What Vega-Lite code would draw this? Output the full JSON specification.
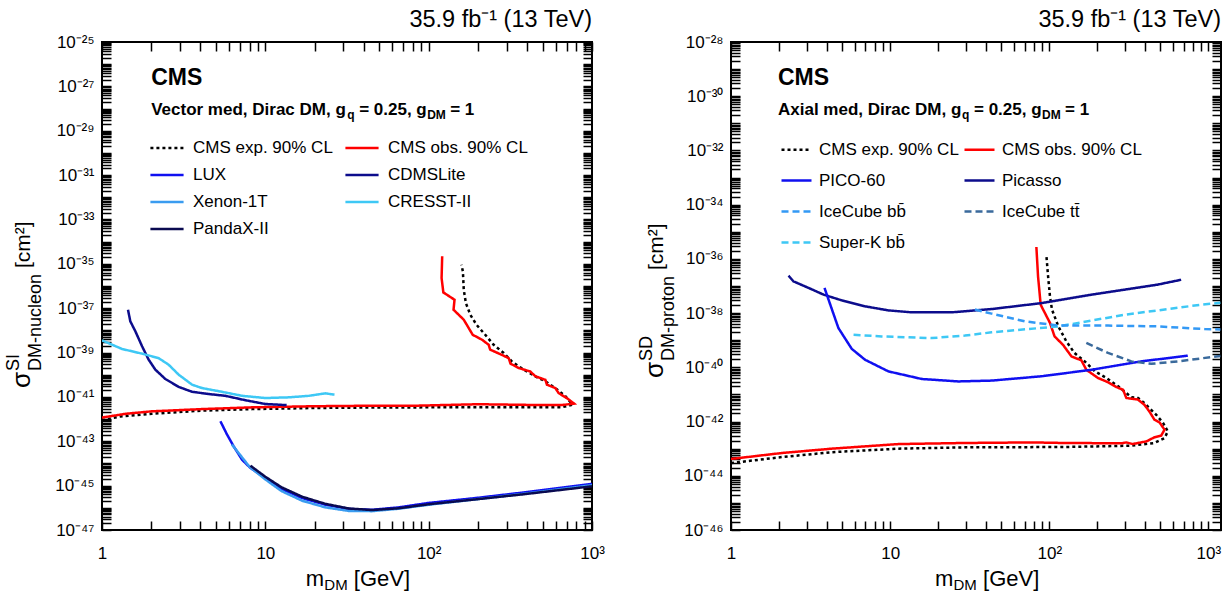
{
  "$schema": "https://vega.github.io/schema/vega-lite/v6.json",
  "autosize": {"type": "pad"},
  "padding": {"left": 3, "top": 6, "right": 0, "bottom": 0},
  "bounds": "flush",
  "spacing": 139,
  "background": "white",
  "config": {
    "font": "Liberation Sans",
    "view": {"stroke": "black", "strokeWidth": 2},
    "axis": {"grid": false, "domain": false, "labelFont": "Liberation Sans", "labelFontSize": 17, "labelColor": "black", "tickColor": "black", "tickWidth": 1.5, "labelFlush": false, "labelOverlap": false, "labelBound": false},
    "legend": {"labelColor": "black"}
  },
  "resolve": {"scale": {"x": "independent", "y": "independent", "color": "independent", "strokeDash": "independent"}},
  "datasets": {
    "si": [
      {"series": "CMS exp. 90% CL", "i": 0, "m": 1.0, "s": 8.91e-43},
      {"series": "CMS exp. 90% CL", "i": 1, "m": 1.3, "s": 1.32e-42},
      {"series": "CMS exp. 90% CL", "i": 2, "m": 2.02, "s": 1.74e-42},
      {"series": "CMS exp. 90% CL", "i": 3, "m": 4.09, "s": 2.40e-42},
      {"series": "CMS exp. 90% CL", "i": 4, "m": 8.3, "s": 2.82e-42},
      {"series": "CMS exp. 90% CL", "i": 5, "m": 20, "s": 3.16e-42},
      {"series": "CMS exp. 90% CL", "i": 6, "m": 40, "s": 3.31e-42},
      {"series": "CMS exp. 90% CL", "i": 7, "m": 110, "s": 3.39e-42},
      {"series": "CMS exp. 90% CL", "i": 8, "m": 281, "s": 3.39e-42},
      {"series": "CMS exp. 90% CL", "i": 9, "m": 650, "s": 3.39e-42},
      {"series": "CMS exp. 90% CL", "i": 10, "m": 760, "s": 4.47e-42},
      {"series": "CMS exp. 90% CL", "i": 11, "m": 687, "s": 1.07e-41},
      {"series": "CMS exp. 90% CL", "i": 12, "m": 596, "s": 2.51e-41},
      {"series": "CMS exp. 90% CL", "i": 13, "m": 518, "s": 5.01e-41},
      {"series": "CMS exp. 90% CL", "i": 14, "m": 450, "s": 8.51e-41},
      {"series": "CMS exp. 90% CL", "i": 15, "m": 381, "s": 1.70e-40},
      {"series": "CMS exp. 90% CL", "i": 16, "m": 323, "s": 3.98e-40},
      {"series": "CMS exp. 90% CL", "i": 17, "m": 288, "s": 9.55e-40},
      {"series": "CMS exp. 90% CL", "i": 18, "m": 250, "s": 2.24e-39},
      {"series": "CMS exp. 90% CL", "i": 19, "m": 222, "s": 6.31e-39},
      {"series": "CMS exp. 90% CL", "i": 20, "m": 196, "s": 1.82e-38},
      {"series": "CMS exp. 90% CL", "i": 21, "m": 180, "s": 5.01e-38},
      {"series": "CMS exp. 90% CL", "i": 22, "m": 169, "s": 1.70e-37},
      {"series": "CMS exp. 90% CL", "i": 23, "m": 164, "s": 6.76e-37},
      {"series": "CMS exp. 90% CL", "i": 24, "m": 162, "s": 4.57e-36},
      {"series": "CMS exp. 90% CL", "i": 25, "m": 158.6, "s": 9.12e-36},
      {"series": "CMS obs. 90% CL", "i": 0, "m": 1.0, "s": 1.17e-42},
      {"series": "CMS obs. 90% CL", "i": 1, "m": 1.4, "s": 1.74e-42},
      {"series": "CMS obs. 90% CL", "i": 2, "m": 2.02, "s": 2.24e-42},
      {"series": "CMS obs. 90% CL", "i": 3, "m": 4.09, "s": 2.82e-42},
      {"series": "CMS obs. 90% CL", "i": 4, "m": 8.3, "s": 3.39e-42},
      {"series": "CMS obs. 90% CL", "i": 5, "m": 20, "s": 3.80e-42},
      {"series": "CMS obs. 90% CL", "i": 6, "m": 40, "s": 3.98e-42},
      {"series": "CMS obs. 90% CL", "i": 7, "m": 80, "s": 3.98e-42},
      {"series": "CMS obs. 90% CL", "i": 8, "m": 200, "s": 4.68e-42},
      {"series": "CMS obs. 90% CL", "i": 9, "m": 400, "s": 4.37e-42},
      {"series": "CMS obs. 90% CL", "i": 10, "m": 650, "s": 4.27e-42},
      {"series": "CMS obs. 90% CL", "i": 11, "m": 776, "s": 5.01e-42},
      {"series": "CMS obs. 90% CL", "i": 12, "m": 700, "s": 8.91e-42},
      {"series": "CMS obs. 90% CL", "i": 13, "m": 625, "s": 1.48e-41},
      {"series": "CMS obs. 90% CL", "i": 14, "m": 596, "s": 2.51e-41},
      {"series": "CMS obs. 90% CL", "i": 15, "m": 530, "s": 3.55e-41},
      {"series": "CMS obs. 90% CL", "i": 16, "m": 518, "s": 5.89e-41},
      {"series": "CMS obs. 90% CL", "i": 17, "m": 450, "s": 8.51e-41},
      {"series": "CMS obs. 90% CL", "i": 18, "m": 418, "s": 1.41e-40},
      {"series": "CMS obs. 90% CL", "i": 19, "m": 356, "s": 2.0e-40},
      {"series": "CMS obs. 90% CL", "i": 20, "m": 317, "s": 3.16e-40},
      {"series": "CMS obs. 90% CL", "i": 21, "m": 309, "s": 5.62e-40},
      {"series": "CMS obs. 90% CL", "i": 22, "m": 274, "s": 8.51e-40},
      {"series": "CMS obs. 90% CL", "i": 23, "m": 238, "s": 1.35e-39},
      {"series": "CMS obs. 90% CL", "i": 24, "m": 233, "s": 2.24e-39},
      {"series": "CMS obs. 90% CL", "i": 25, "m": 212, "s": 3.80e-39},
      {"series": "CMS obs. 90% CL", "i": 26, "m": 186, "s": 6.31e-39},
      {"series": "CMS obs. 90% CL", "i": 27, "m": 176, "s": 1.26e-38},
      {"series": "CMS obs. 90% CL", "i": 28, "m": 164, "s": 3.02e-38},
      {"series": "CMS obs. 90% CL", "i": 29, "m": 142, "s": 8.51e-38},
      {"series": "CMS obs. 90% CL", "i": 30, "m": 144, "s": 2.40e-37},
      {"series": "CMS obs. 90% CL", "i": 31, "m": 123, "s": 5.13e-37},
      {"series": "CMS obs. 90% CL", "i": 32, "m": 120, "s": 2.29e-36},
      {"series": "CMS obs. 90% CL", "i": 33, "m": 121, "s": 2.19e-35},
      {"series": "LUX", "i": 0, "m": 5.31, "s": 7.94e-43},
      {"series": "LUX", "i": 1, "m": 5.83, "s": 2.0e-43},
      {"series": "LUX", "i": 2, "m": 6.4, "s": 5.89e-44},
      {"series": "LUX", "i": 3, "m": 7.2, "s": 1.48e-44},
      {"series": "LUX", "i": 4, "m": 8.1, "s": 6.31e-45},
      {"series": "LUX", "i": 5, "m": 10, "s": 2.19e-45},
      {"series": "LUX", "i": 6, "m": 12.6, "s": 7.08e-46},
      {"series": "LUX", "i": 7, "m": 16.8, "s": 2.75e-46},
      {"series": "LUX", "i": 8, "m": 23.3, "s": 1.38e-46},
      {"series": "LUX", "i": 9, "m": 32.4, "s": 8.91e-47},
      {"series": "LUX", "i": 10, "m": 45, "s": 8.13e-47},
      {"series": "LUX", "i": 11, "m": 65.6, "s": 1.05e-46},
      {"series": "LUX", "i": 12, "m": 100, "s": 1.66e-46},
      {"series": "LUX", "i": 13, "m": 193, "s": 2.75e-46},
      {"series": "LUX", "i": 14, "m": 390, "s": 5.01e-46},
      {"series": "LUX", "i": 15, "m": 1000, "s": 1.20e-45},
      {"series": "Xenon-1T", "i": 0, "m": 6.25, "s": 7.08e-44},
      {"series": "Xenon-1T", "i": 1, "m": 8.0, "s": 7.08e-45},
      {"series": "Xenon-1T", "i": 2, "m": 10, "s": 1.91e-45},
      {"series": "Xenon-1T", "i": 3, "m": 12.6, "s": 5.62e-46},
      {"series": "Xenon-1T", "i": 4, "m": 16.8, "s": 2.09e-46},
      {"series": "Xenon-1T", "i": 5, "m": 23.3, "s": 1.05e-46},
      {"series": "Xenon-1T", "i": 6, "m": 32.4, "s": 7.24e-47},
      {"series": "Xenon-1T", "i": 7, "m": 45, "s": 7.08e-47},
      {"series": "Xenon-1T", "i": 8, "m": 65.6, "s": 9.12e-47},
      {"series": "Xenon-1T", "i": 9, "m": 100, "s": 1.38e-46},
      {"series": "Xenon-1T", "i": 10, "m": 193, "s": 2.40e-46},
      {"series": "Xenon-1T", "i": 11, "m": 390, "s": 4.37e-46},
      {"series": "Xenon-1T", "i": 12, "m": 1000, "s": 1.05e-45},
      {"series": "PandaX-II", "i": 0, "m": 8.1, "s": 7.94e-45},
      {"series": "PandaX-II", "i": 1, "m": 10, "s": 2.51e-45},
      {"series": "PandaX-II", "i": 2, "m": 12.6, "s": 8.32e-46},
      {"series": "PandaX-II", "i": 3, "m": 16.8, "s": 3.16e-46},
      {"series": "PandaX-II", "i": 4, "m": 23.3, "s": 1.51e-46},
      {"series": "PandaX-II", "i": 5, "m": 32.4, "s": 9.33e-47},
      {"series": "PandaX-II", "i": 6, "m": 45, "s": 7.94e-47},
      {"series": "PandaX-II", "i": 7, "m": 65.6, "s": 9.55e-47},
      {"series": "PandaX-II", "i": 8, "m": 100, "s": 1.45e-46},
      {"series": "PandaX-II", "i": 9, "m": 193, "s": 2.40e-46},
      {"series": "PandaX-II", "i": 10, "m": 390, "s": 4.17e-46},
      {"series": "PandaX-II", "i": 11, "m": 1000, "s": 9.33e-46},
      {"series": "CDMSLite", "i": 0, "m": 1.443, "s": 8.51e-38},
      {"series": "CDMSLite", "i": 1, "m": 1.49, "s": 2.57e-38},
      {"series": "CDMSLite", "i": 2, "m": 1.6, "s": 9.12e-39},
      {"series": "CDMSLite", "i": 3, "m": 1.76, "s": 1.91e-39},
      {"series": "CDMSLite", "i": 4, "m": 1.93, "s": 4.79e-40},
      {"series": "CDMSLite", "i": 5, "m": 2.12, "s": 1.70e-40},
      {"series": "CDMSLite", "i": 6, "m": 2.44, "s": 6.46e-41},
      {"series": "CDMSLite", "i": 7, "m": 2.95, "s": 2.82e-41},
      {"series": "CDMSLite", "i": 8, "m": 3.56, "s": 1.70e-41},
      {"series": "CDMSLite", "i": 9, "m": 4.5, "s": 1.35e-41},
      {"series": "CDMSLite", "i": 10, "m": 5.69, "s": 1.12e-41},
      {"series": "CDMSLite", "i": 11, "m": 7.55, "s": 7.08e-42},
      {"series": "CDMSLite", "i": 12, "m": 10, "s": 4.79e-42},
      {"series": "CDMSLite", "i": 13, "m": 13.5, "s": 4.27e-42},
      {"series": "CRESST-II", "i": 0, "m": 1.0, "s": 3.55e-39},
      {"series": "CRESST-II", "i": 1, "m": 1.326, "s": 1.45e-39},
      {"series": "CRESST-II", "i": 2, "m": 1.758, "s": 8.91e-40},
      {"series": "CRESST-II", "i": 3, "m": 2.22, "s": 5.62e-40},
      {"series": "CRESST-II", "i": 4, "m": 2.56, "s": 2.82e-40},
      {"series": "CRESST-II", "i": 5, "m": 2.95, "s": 1.0e-40},
      {"series": "CRESST-II", "i": 6, "m": 3.56, "s": 3.55e-41},
      {"series": "CRESST-II", "i": 7, "m": 4.09, "s": 2.51e-41},
      {"series": "CRESST-II", "i": 8, "m": 5.42, "s": 1.70e-41},
      {"series": "CRESST-II", "i": 9, "m": 7.2, "s": 1.12e-41},
      {"series": "CRESST-II", "i": 10, "m": 10, "s": 8.91e-42},
      {"series": "CRESST-II", "i": 11, "m": 13.9, "s": 9.55e-42},
      {"series": "CRESST-II", "i": 12, "m": 18.5, "s": 1.12e-41},
      {"series": "CRESST-II", "i": 13, "m": 23.3, "s": 1.45e-41},
      {"series": "CRESST-II", "i": 14, "m": 26.5, "s": 1.26e-41}
    ],
    "sd": [
      {"series": "CMS exp. 90% CL", "i": 0, "m": 1.0, "s": 2.95e-44},
      {"series": "CMS exp. 90% CL", "i": 1, "m": 2.09, "s": 4.90e-44},
      {"series": "CMS exp. 90% CL", "i": 2, "m": 4.3, "s": 7.41e-44},
      {"series": "CMS exp. 90% CL", "i": 3, "m": 11.3, "s": 1.0e-43},
      {"series": "CMS exp. 90% CL", "i": 4, "m": 29.5, "s": 1.12e-43},
      {"series": "CMS exp. 90% CL", "i": 5, "m": 125, "s": 1.15e-43},
      {"series": "CMS exp. 90% CL", "i": 6, "m": 328, "s": 1.29e-43},
      {"series": "CMS exp. 90% CL", "i": 7, "m": 458, "s": 1.62e-43},
      {"series": "CMS exp. 90% CL", "i": 8, "m": 530, "s": 2.45e-43},
      {"series": "CMS exp. 90% CL", "i": 9, "m": 556, "s": 4.37e-43},
      {"series": "CMS exp. 90% CL", "i": 10, "m": 519, "s": 8.91e-43},
      {"series": "CMS exp. 90% CL", "i": 11, "m": 470, "s": 1.78e-42},
      {"series": "CMS exp. 90% CL", "i": 12, "m": 425, "s": 3.16e-42},
      {"series": "CMS exp. 90% CL", "i": 13, "m": 396, "s": 4.79e-42},
      {"series": "CMS exp. 90% CL", "i": 14, "m": 361, "s": 7.41e-42},
      {"series": "CMS exp. 90% CL", "i": 15, "m": 328, "s": 7.94e-42},
      {"series": "CMS exp. 90% CL", "i": 16, "m": 271, "s": 2.0e-41},
      {"series": "CMS exp. 90% CL", "i": 17, "m": 228, "s": 4.07e-41},
      {"series": "CMS exp. 90% CL", "i": 18, "m": 194, "s": 7.08e-41},
      {"series": "CMS exp. 90% CL", "i": 19, "m": 167, "s": 1.66e-40},
      {"series": "CMS exp. 90% CL", "i": 20, "m": 144, "s": 3.39e-40},
      {"series": "CMS exp. 90% CL", "i": 21, "m": 128, "s": 9.12e-40},
      {"series": "CMS exp. 90% CL", "i": 22, "m": 114, "s": 3.24e-39},
      {"series": "CMS exp. 90% CL", "i": 23, "m": 104, "s": 1.35e-38},
      {"series": "CMS exp. 90% CL", "i": 24, "m": 101, "s": 4.17e-38},
      {"series": "CMS exp. 90% CL", "i": 25, "m": 98.3, "s": 2.29e-37},
      {"series": "CMS exp. 90% CL", "i": 26, "m": 96, "s": 1.26e-36},
      {"series": "CMS obs. 90% CL", "i": 0, "m": 1.0, "s": 4.17e-44},
      {"series": "CMS obs. 90% CL", "i": 1, "m": 2.09, "s": 6.92e-44},
      {"series": "CMS obs. 90% CL", "i": 2, "m": 4.3, "s": 1.0e-43},
      {"series": "CMS obs. 90% CL", "i": 3, "m": 11.3, "s": 1.48e-43},
      {"series": "CMS obs. 90% CL", "i": 4, "m": 29.5, "s": 1.62e-43},
      {"series": "CMS obs. 90% CL", "i": 5, "m": 77.5, "s": 1.70e-43},
      {"series": "CMS obs. 90% CL", "i": 6, "m": 125, "s": 1.62e-43},
      {"series": "CMS obs. 90% CL", "i": 7, "m": 285, "s": 1.58e-43},
      {"series": "CMS obs. 90% CL", "i": 8, "m": 305, "s": 1.70e-43},
      {"series": "CMS obs. 90% CL", "i": 9, "m": 334, "s": 1.48e-43},
      {"series": "CMS obs. 90% CL", "i": 10, "m": 408, "s": 1.86e-43},
      {"series": "CMS obs. 90% CL", "i": 11, "m": 458, "s": 2.63e-43},
      {"series": "CMS obs. 90% CL", "i": 12, "m": 505, "s": 3.02e-43},
      {"series": "CMS obs. 90% CL", "i": 13, "m": 530, "s": 5.01e-43},
      {"series": "CMS obs. 90% CL", "i": 14, "m": 493, "s": 9.33e-43},
      {"series": "CMS obs. 90% CL", "i": 15, "m": 458, "s": 1.17e-42},
      {"series": "CMS obs. 90% CL", "i": 16, "m": 425, "s": 2.40e-42},
      {"series": "CMS obs. 90% CL", "i": 17, "m": 396, "s": 4.17e-42},
      {"series": "CMS obs. 90% CL", "i": 18, "m": 361, "s": 6.46e-42},
      {"series": "CMS obs. 90% CL", "i": 19, "m": 305, "s": 7.41e-42},
      {"series": "CMS obs. 90% CL", "i": 20, "m": 291, "s": 1.48e-41},
      {"series": "CMS obs. 90% CL", "i": 21, "m": 265, "s": 1.86e-41},
      {"series": "CMS obs. 90% CL", "i": 22, "m": 234, "s": 2.82e-41},
      {"series": "CMS obs. 90% CL", "i": 23, "m": 202, "s": 4.07e-41},
      {"series": "CMS obs. 90% CL", "i": 24, "m": 171, "s": 8.13e-41},
      {"series": "CMS obs. 90% CL", "i": 25, "m": 159, "s": 1.82e-40},
      {"series": "CMS obs. 90% CL", "i": 26, "m": 138, "s": 2.51e-40},
      {"series": "CMS obs. 90% CL", "i": 27, "m": 122, "s": 6.76e-40},
      {"series": "CMS obs. 90% CL", "i": 28, "m": 108, "s": 1.38e-39},
      {"series": "CMS obs. 90% CL", "i": 29, "m": 101, "s": 4.37e-39},
      {"series": "CMS obs. 90% CL", "i": 30, "m": 91.5, "s": 1.35e-38},
      {"series": "CMS obs. 90% CL", "i": 31, "m": 88.3, "s": 2.04e-38},
      {"series": "CMS obs. 90% CL", "i": 32, "m": 85, "s": 2.29e-37},
      {"series": "CMS obs. 90% CL", "i": 33, "m": 83, "s": 2.75e-36},
      {"series": "Picasso", "i": 0, "m": 2.3, "s": 2.40e-37},
      {"series": "Picasso", "i": 1, "m": 2.47, "s": 1.48e-37},
      {"series": "Picasso", "i": 2, "m": 3.07, "s": 8.51e-38},
      {"series": "Picasso", "i": 3, "m": 3.82, "s": 4.79e-38},
      {"series": "Picasso", "i": 4, "m": 4.97, "s": 2.95e-38},
      {"series": "Picasso", "i": 5, "m": 6.95, "s": 1.78e-38},
      {"series": "Picasso", "i": 6, "m": 9.75, "s": 1.26e-38},
      {"series": "Picasso", "i": 7, "m": 13.6, "s": 1.07e-38},
      {"series": "Picasso", "i": 8, "m": 24.4, "s": 1.07e-38},
      {"series": "Picasso", "i": 9, "m": 43.4, "s": 1.41e-38},
      {"series": "Picasso", "i": 10, "m": 89.5, "s": 2.34e-38},
      {"series": "Picasso", "i": 11, "m": 184, "s": 4.79e-38},
      {"series": "Picasso", "i": 12, "m": 478, "s": 1.12e-37},
      {"series": "Picasso", "i": 13, "m": 674, "s": 1.70e-37},
      {"series": "PICO-60", "i": 0, "m": 3.87, "s": 8.51e-38},
      {"series": "PICO-60", "i": 1, "m": 4.1, "s": 3.16e-38},
      {"series": "PICO-60", "i": 2, "m": 4.73, "s": 2.82e-39},
      {"series": "PICO-60", "i": 3, "m": 5.74, "s": 4.79e-40},
      {"series": "PICO-60", "i": 4, "m": 6.95, "s": 1.91e-40},
      {"series": "PICO-60", "i": 5, "m": 9.75, "s": 7.08e-41},
      {"series": "PICO-60", "i": 6, "m": 15.8, "s": 3.72e-41},
      {"series": "PICO-60", "i": 7, "m": 26.8, "s": 3.02e-41},
      {"series": "PICO-60", "i": 8, "m": 43.4, "s": 3.24e-41},
      {"series": "PICO-60", "i": 9, "m": 89.5, "s": 4.68e-41},
      {"series": "PICO-60", "i": 10, "m": 184, "s": 8.13e-41},
      {"series": "PICO-60", "i": 11, "m": 378, "s": 1.66e-40},
      {"series": "PICO-60", "i": 12, "m": 742, "s": 2.69e-40},
      {"series": "Super-K bb̄", "i": 0, "m": 5.89, "s": 1.58e-39},
      {"series": "Super-K bb̄", "i": 1, "m": 8.86, "s": 1.38e-39},
      {"series": "Super-K bb̄", "i": 2, "m": 18.2, "s": 1.20e-39},
      {"series": "Super-K bb̄", "i": 3, "m": 29.5, "s": 1.48e-39},
      {"series": "Super-K bb̄", "i": 4, "m": 43.4, "s": 1.95e-39},
      {"series": "Super-K bb̄", "i": 5, "m": 114, "s": 3.24e-39},
      {"series": "Super-K bb̄", "i": 6, "m": 298, "s": 8.71e-39},
      {"series": "Super-K bb̄", "i": 7, "m": 898, "s": 2.04e-38},
      {"series": "Super-K bb̄", "i": 8, "m": 1190, "s": 2.40e-38},
      {"series": "IceCube bb̄", "i": 0, "m": 34.1, "s": 1.35e-38},
      {"series": "IceCube bb̄", "i": 1, "m": 43.4, "s": 9.55e-39},
      {"series": "IceCube bb̄", "i": 2, "m": 70, "s": 5.01e-39},
      {"series": "IceCube bb̄", "i": 3, "m": 114, "s": 3.47e-39},
      {"series": "IceCube bb̄", "i": 4, "m": 234, "s": 3.47e-39},
      {"series": "IceCube bb̄", "i": 5, "m": 478, "s": 3.24e-39},
      {"series": "IceCube bb̄", "i": 6, "m": 945, "s": 2.57e-39},
      {"series": "IceCube bb̄", "i": 7, "m": 1190, "s": 2.51e-39},
      {"series": "IceCube tt̄", "i": 0, "m": 171, "s": 7.94e-40},
      {"series": "IceCube tt̄", "i": 1, "m": 234, "s": 3.39e-40},
      {"series": "IceCube tt̄", "i": 2, "m": 328, "s": 1.66e-40},
      {"series": "IceCube tt̄", "i": 3, "m": 438, "s": 1.35e-40},
      {"series": "IceCube tt̄", "i": 4, "m": 642, "s": 1.66e-40},
      {"series": "IceCube tt̄", "i": 5, "m": 1190, "s": 2.63e-40}
    ]
  },
  "hconcat": [
    {
      "width": 490,
      "height": 488,
      "title": {"text": "35.9 fb⁻¹ (13 TeV)", "anchor": "end", "frame": "group", "fontSize": 23.5, "fontWeight": "normal", "font": "Liberation Sans", "offset": 2, "color": "black"},
      "resolve": {"axis": {"x": "independent", "y": "independent"}},
      "layer": [
        {
          "data": {"name": "si"},
          "mark": {"type": "line", "strokeWidth": 2.5, "clip": true},
          "encoding": {
            "x": {"field": "m", "type": "quantitative", "scale": {"type": "log", "domain": [1, 1000], "nice": false},
              "axis": {"orient": "bottom", "title": null, "tickSize": -9, "labelPadding": 24,
                "values": [1,2,3,4,5,6,7,8,9,10,20,30,40,50,60,70,80,90,100,200,300,400,500,600,700,800,900,1000],
                "labelExpr": "datum.value == 1 ? '1' : datum.value == 10 ? '10' : datum.value == 100 ? '10²' : datum.value == 1000 ? '10³' : ''"}},
            "y": {"field": "s", "type": "quantitative", "scale": {"type": "log", "domain": [1e-47, 1e-25], "nice": false},
              "axis": {"orient": "left", "title": null, "tickSize": -9, "labelPadding": 17,
                "values": [1e-47,2e-47,3e-47,4e-47,5e-47,6e-47,7e-47,8e-47,9e-47,1e-46,2e-46,3e-46,4e-46,5e-46,6e-46,7e-46,8e-46,9e-46,1e-45,2e-45,3e-45,4e-45,5e-45,6e-45,7e-45,8e-45,9e-45,1e-44,2e-44,3e-44,4e-44,5e-44,6e-44,7e-44,8e-44,9e-44,1e-43,2e-43,3e-43,4e-43,5e-43,6e-43,7e-43,8e-43,9e-43,1e-42,2e-42,3e-42,4e-42,5e-42,6e-42,7e-42,8e-42,9e-42,1e-41,2e-41,3e-41,4e-41,5e-41,6e-41,7e-41,8e-41,9e-41,1e-40,2e-40,3e-40,4e-40,5e-40,6e-40,7e-40,8e-40,9e-40,1e-39,2e-39,3e-39,4e-39,5e-39,6e-39,7e-39,8e-39,9e-39,1e-38,2e-38,3e-38,4e-38,5e-38,6e-38,7e-38,8e-38,9e-38,1e-37,2e-37,3e-37,4e-37,5e-37,6e-37,7e-37,8e-37,9e-37,1e-36,2e-36,3e-36,4e-36,5e-36,6e-36,7e-36,8e-36,9e-36,1e-35,2e-35,3e-35,4e-35,5e-35,6e-35,7e-35,8e-35,9e-35,1e-34,2e-34,3e-34,4e-34,5e-34,6e-34,7e-34,8e-34,9e-34,1e-33,2e-33,3e-33,4e-33,5e-33,6e-33,7e-33,8e-33,9e-33,1e-32,2e-32,3e-32,4e-32,5e-32,6e-32,7e-32,8e-32,9e-32,1e-31,2e-31,3e-31,4e-31,5e-31,6e-31,7e-31,8e-31,9e-31,1e-30,2e-30,3e-30,4e-30,5e-30,6e-30,7e-30,8e-30,9e-30,1e-29,2e-29,3e-29,4e-29,5e-29,6e-29,7e-29,8e-29,9e-29,1e-28,2e-28,3e-28,4e-28,5e-28,6e-28,7e-28,8e-28,9e-28,1e-27,2e-27,3e-27,4e-27,5e-27,6e-27,7e-27,8e-27,9e-27,1e-26,2e-26,3e-26,4e-26,5e-26,6e-26,7e-26,8e-26,9e-26,1e-25],
                "labelExpr": "abs(log(datum.value)/LN10 - round(log(datum.value)/LN10)) < 1e-6 && abs(round(log(datum.value)/LN10)) % 2 == 1 ? '10⁻' + substring('⁰¹²³⁴⁵⁶⁷⁸⁹', floor(abs(round(log(datum.value)/LN10))/10), floor(abs(round(log(datum.value)/LN10))/10) + 1) + substring('⁰¹²³⁴⁵⁶⁷⁸⁹', abs(round(log(datum.value)/LN10)) % 10, abs(round(log(datum.value)/LN10)) % 10 + 1) : ''"}},
            "color": {"field": "series", "type": "nominal",
              "scale": {"domain": ["CMS exp. 90% CL", "LUX", "Xenon-1T", "PandaX-II", "CMS obs. 90% CL", "CDMSLite", "CRESST-II"], "range": ["#000000", "#1010f0", "#3a9cf0", "#0a0a50", "#ff0000", "#0c0c8c", "#3ec8f5"]},
              "legend": {"title": null, "orient": "none", "legendX": 47, "legendY": 88, "columns": 2, "symbolType": "stroke", "symbolSize": 1100, "symbolStrokeWidth": 2.5, "labelFontSize": 17, "labelFont": "Liberation Sans", "labelOffset": 8, "rowPadding": 1, "columnPadding": 7, "padding": 0, "labelLimit": 400}},
            "strokeDash": {"field": "series", "type": "nominal",
              "scale": {"domain": ["CMS exp. 90% CL", "LUX", "Xenon-1T", "PandaX-II", "CMS obs. 90% CL", "CDMSLite", "CRESST-II"], "range": [[3,3],[1,0],[1,0],[1,0],[1,0],[1,0],[1,0]]},
              "legend": {"title": null, "orient": "none", "legendX": 47, "legendY": 88, "columns": 2, "symbolType": "stroke", "symbolSize": 1100, "symbolStrokeWidth": 2.5, "labelFontSize": 17, "labelFont": "Liberation Sans", "labelOffset": 8, "rowPadding": 1, "columnPadding": 7, "padding": 0, "labelLimit": 400}},
            "order": {"field": "i", "type": "quantitative"}
          }
        },
        {
          "data": {"name": "si"},
          "mark": {"type": "line", "opacity": 0},
          "encoding": {
            "x": {"field": "m", "type": "quantitative", "scale": {"type": "log", "domain": [1, 1000], "nice": false},
              "axis": {"orient": "top", "title": null, "labels": false, "tickSize": -9,
                "values": [1,2,3,4,5,6,7,8,9,10,20,30,40,50,60,70,80,90,100,200,300,400,500,600,700,800,900,1000]}},
            "y": {"field": "s", "type": "quantitative", "scale": {"type": "log", "domain": [1e-47, 1e-25], "nice": false},
              "axis": {"orient": "right", "title": null, "labels": false, "tickSize": -9,
                "values": [1e-47,2e-47,3e-47,4e-47,5e-47,6e-47,7e-47,8e-47,9e-47,1e-46,2e-46,3e-46,4e-46,5e-46,6e-46,7e-46,8e-46,9e-46,1e-45,2e-45,3e-45,4e-45,5e-45,6e-45,7e-45,8e-45,9e-45,1e-44,2e-44,3e-44,4e-44,5e-44,6e-44,7e-44,8e-44,9e-44,1e-43,2e-43,3e-43,4e-43,5e-43,6e-43,7e-43,8e-43,9e-43,1e-42,2e-42,3e-42,4e-42,5e-42,6e-42,7e-42,8e-42,9e-42,1e-41,2e-41,3e-41,4e-41,5e-41,6e-41,7e-41,8e-41,9e-41,1e-40,2e-40,3e-40,4e-40,5e-40,6e-40,7e-40,8e-40,9e-40,1e-39,2e-39,3e-39,4e-39,5e-39,6e-39,7e-39,8e-39,9e-39,1e-38,2e-38,3e-38,4e-38,5e-38,6e-38,7e-38,8e-38,9e-38,1e-37,2e-37,3e-37,4e-37,5e-37,6e-37,7e-37,8e-37,9e-37,1e-36,2e-36,3e-36,4e-36,5e-36,6e-36,7e-36,8e-36,9e-36,1e-35,2e-35,3e-35,4e-35,5e-35,6e-35,7e-35,8e-35,9e-35,1e-34,2e-34,3e-34,4e-34,5e-34,6e-34,7e-34,8e-34,9e-34,1e-33,2e-33,3e-33,4e-33,5e-33,6e-33,7e-33,8e-33,9e-33,1e-32,2e-32,3e-32,4e-32,5e-32,6e-32,7e-32,8e-32,9e-32,1e-31,2e-31,3e-31,4e-31,5e-31,6e-31,7e-31,8e-31,9e-31,1e-30,2e-30,3e-30,4e-30,5e-30,6e-30,7e-30,8e-30,9e-30,1e-29,2e-29,3e-29,4e-29,5e-29,6e-29,7e-29,8e-29,9e-29,1e-28,2e-28,3e-28,4e-28,5e-28,6e-28,7e-28,8e-28,9e-28,1e-27,2e-27,3e-27,4e-27,5e-27,6e-27,7e-27,8e-27,9e-27,1e-26,2e-26,3e-26,4e-26,5e-26,6e-26,7e-26,8e-26,9e-26,1e-25]}},
            "detail": {"field": "series"}
          }
        },
        {"data": {"values": [{"t": "CMS"}]}, "mark": {"type": "text", "align": "left", "baseline": "alphabetic", "fontSize": 23, "fontWeight": "bold"},
          "encoding": {"x": {"datum": 2.0, "type": "quantitative", "scale": {"type": "log", "domain": [1, 1000], "nice": false}, "axis": null}, "y": {"datum": 1.15e-27, "type": "quantitative", "scale": {"type": "log", "domain": [1e-47, 1e-25], "nice": false}, "axis": null}, "text": {"field": "t"}}},
        {"data": {"values": [{"t": "Vector med, Dirac DM, g"}]}, "mark": {"type": "text", "align": "left", "baseline": "alphabetic", "fontSize": 17, "fontWeight": "bold"},
          "encoding": {"x": {"datum": 2.0, "type": "quantitative", "scale": {"type": "log", "domain": [1, 1000], "nice": false}, "axis": null}, "y": {"datum": 5.13e-29, "type": "quantitative", "scale": {"type": "log", "domain": [1e-47, 1e-25], "nice": false}, "axis": null}, "text": {"field": "t"}}},
        {"data": {"values": [{"t": "q"}]}, "mark": {"type": "text", "align": "left", "baseline": "alphabetic", "fontSize": 12, "fontWeight": "bold", "dx": 196, "dy": 4},
          "encoding": {"x": {"datum": 2.0, "type": "quantitative", "scale": {"type": "log", "domain": [1, 1000], "nice": false}, "axis": null}, "y": {"datum": 5.13e-29, "type": "quantitative", "scale": {"type": "log", "domain": [1e-47, 1e-25], "nice": false}, "axis": null}, "text": {"field": "t"}}},
        {"data": {"values": [{"t": "= 0.25, g"}]}, "mark": {"type": "text", "align": "left", "baseline": "alphabetic", "fontSize": 17, "fontWeight": "bold", "dx": 208},
          "encoding": {"x": {"datum": 2.0, "type": "quantitative", "scale": {"type": "log", "domain": [1, 1000], "nice": false}, "axis": null}, "y": {"datum": 5.13e-29, "type": "quantitative", "scale": {"type": "log", "domain": [1e-47, 1e-25], "nice": false}, "axis": null}, "text": {"field": "t"}}},
        {"data": {"values": [{"t": "DM"}]}, "mark": {"type": "text", "align": "left", "baseline": "alphabetic", "fontSize": 12, "fontWeight": "bold", "dx": 276, "dy": 4},
          "encoding": {"x": {"datum": 2.0, "type": "quantitative", "scale": {"type": "log", "domain": [1, 1000], "nice": false}, "axis": null}, "y": {"datum": 5.13e-29, "type": "quantitative", "scale": {"type": "log", "domain": [1e-47, 1e-25], "nice": false}, "axis": null}, "text": {"field": "t"}}},
        {"data": {"values": [{"t": "= 1"}]}, "mark": {"type": "text", "align": "left", "baseline": "alphabetic", "fontSize": 17, "fontWeight": "bold", "dx": 299},
          "encoding": {"x": {"datum": 2.0, "type": "quantitative", "scale": {"type": "log", "domain": [1, 1000], "nice": false}, "axis": null}, "y": {"datum": 5.13e-29, "type": "quantitative", "scale": {"type": "log", "domain": [1e-47, 1e-25], "nice": false}, "axis": null}, "text": {"field": "t"}}},
        {"data": {"values": [{"t": "m"}]}, "mark": {"type": "text", "align": "left", "baseline": "alphabetic", "fontSize": 22},
          "encoding": {"x": {"datum": 17.7, "type": "quantitative", "scale": {"type": "log", "domain": [1, 1000], "nice": false}, "axis": null}, "y": {"datum": 2.97e-50, "type": "quantitative", "scale": {"type": "log", "domain": [1e-47, 1e-25], "nice": false}, "axis": null}, "text": {"field": "t"}}},
        {"data": {"values": [{"t": "DM"}]}, "mark": {"type": "text", "align": "left", "baseline": "alphabetic", "fontSize": 15, "dx": 18.5, "dy": 4},
          "encoding": {"x": {"datum": 17.7, "type": "quantitative", "scale": {"type": "log", "domain": [1, 1000], "nice": false}, "axis": null}, "y": {"datum": 2.97e-50, "type": "quantitative", "scale": {"type": "log", "domain": [1e-47, 1e-25], "nice": false}, "axis": null}, "text": {"field": "t"}}},
        {"data": {"values": [{"t": "[GeV]"}]}, "mark": {"type": "text", "align": "left", "baseline": "alphabetic", "fontSize": 22, "dx": 48},
          "encoding": {"x": {"datum": 17.7, "type": "quantitative", "scale": {"type": "log", "domain": [1, 1000], "nice": false}, "axis": null}, "y": {"datum": 2.97e-50, "type": "quantitative", "scale": {"type": "log", "domain": [1e-47, 1e-25], "nice": false}, "axis": null}, "text": {"field": "t"}}},
        {"data": {"values": [{"t": "σ"}]}, "mark": {"type": "text", "align": "left", "baseline": "alphabetic", "fontSize": 26, "angle": 270},
          "encoding": {"x": {"datum": 0.3623, "type": "quantitative", "scale": {"type": "log", "domain": [1, 1000], "nice": false}, "axis": null}, "y": {"datum": 2.51e-41, "type": "quantitative", "scale": {"type": "log", "domain": [1e-47, 1e-25], "nice": false}, "axis": null}, "text": {"field": "t"}}},
        {"data": {"values": [{"t": "SI"}]}, "mark": {"type": "text", "align": "left", "baseline": "alphabetic", "fontSize": 18, "angle": 270, "dx": 17, "dy": -11},
          "encoding": {"x": {"datum": 0.3623, "type": "quantitative", "scale": {"type": "log", "domain": [1, 1000], "nice": false}, "axis": null}, "y": {"datum": 2.51e-41, "type": "quantitative", "scale": {"type": "log", "domain": [1e-47, 1e-25], "nice": false}, "axis": null}, "text": {"field": "t"}}},
        {"data": {"values": [{"t": "DM-nucleon"}]}, "mark": {"type": "text", "align": "left", "baseline": "alphabetic", "fontSize": 18, "angle": 270, "dx": 17, "dy": 11},
          "encoding": {"x": {"datum": 0.3623, "type": "quantitative", "scale": {"type": "log", "domain": [1, 1000], "nice": false}, "axis": null}, "y": {"datum": 2.51e-41, "type": "quantitative", "scale": {"type": "log", "domain": [1e-47, 1e-25], "nice": false}, "axis": null}, "text": {"field": "t"}}},
        {"data": {"values": [{"t": "[cm²]"}]}, "mark": {"type": "text", "align": "left", "baseline": "alphabetic", "fontSize": 21, "angle": 270, "dx": 120},
          "encoding": {"x": {"datum": 0.3623, "type": "quantitative", "scale": {"type": "log", "domain": [1, 1000], "nice": false}, "axis": null}, "y": {"datum": 2.51e-41, "type": "quantitative", "scale": {"type": "log", "domain": [1e-47, 1e-25], "nice": false}, "axis": null}, "text": {"field": "t"}}}
      ]
    },
    {
      "width": 490,
      "height": 488,
      "title": {"text": "35.9 fb⁻¹ (13 TeV)", "anchor": "end", "frame": "group", "fontSize": 23.5, "fontWeight": "normal", "font": "Liberation Sans", "offset": 2, "color": "black"},
      "resolve": {"axis": {"x": "independent", "y": "independent"}},
      "layer": [
        {
          "data": {"name": "sd"},
          "mark": {"type": "line", "strokeWidth": 2.5, "clip": true},
          "encoding": {
            "x": {"field": "m", "type": "quantitative", "scale": {"type": "log", "domain": [1, 1200], "nice": false},
              "axis": {"orient": "bottom", "title": null, "tickSize": -9, "labelPadding": 24,
                "values": [1,2,3,4,5,6,7,8,9,10,20,30,40,50,60,70,80,90,100,200,300,400,500,600,700,800,900,1000],
                "labelExpr": "datum.value == 1 ? '1' : datum.value == 10 ? '10' : datum.value == 100 ? '10²' : datum.value == 1000 ? '10³' : ''"}},
            "y": {"field": "s", "type": "quantitative", "scale": {"type": "log", "domain": [1e-46, 1e-28], "nice": false},
              "axis": {"orient": "left", "title": null, "tickSize": -9, "labelPadding": 17,
                "values": [1e-46,2e-46,3e-46,4e-46,5e-46,6e-46,7e-46,8e-46,9e-46,1e-45,2e-45,3e-45,4e-45,5e-45,6e-45,7e-45,8e-45,9e-45,1e-44,2e-44,3e-44,4e-44,5e-44,6e-44,7e-44,8e-44,9e-44,1e-43,2e-43,3e-43,4e-43,5e-43,6e-43,7e-43,8e-43,9e-43,1e-42,2e-42,3e-42,4e-42,5e-42,6e-42,7e-42,8e-42,9e-42,1e-41,2e-41,3e-41,4e-41,5e-41,6e-41,7e-41,8e-41,9e-41,1e-40,2e-40,3e-40,4e-40,5e-40,6e-40,7e-40,8e-40,9e-40,1e-39,2e-39,3e-39,4e-39,5e-39,6e-39,7e-39,8e-39,9e-39,1e-38,2e-38,3e-38,4e-38,5e-38,6e-38,7e-38,8e-38,9e-38,1e-37,2e-37,3e-37,4e-37,5e-37,6e-37,7e-37,8e-37,9e-37,1e-36,2e-36,3e-36,4e-36,5e-36,6e-36,7e-36,8e-36,9e-36,1e-35,2e-35,3e-35,4e-35,5e-35,6e-35,7e-35,8e-35,9e-35,1e-34,2e-34,3e-34,4e-34,5e-34,6e-34,7e-34,8e-34,9e-34,1e-33,2e-33,3e-33,4e-33,5e-33,6e-33,7e-33,8e-33,9e-33,1e-32,2e-32,3e-32,4e-32,5e-32,6e-32,7e-32,8e-32,9e-32,1e-31,2e-31,3e-31,4e-31,5e-31,6e-31,7e-31,8e-31,9e-31,1e-30,2e-30,3e-30,4e-30,5e-30,6e-30,7e-30,8e-30,9e-30,1e-29,2e-29,3e-29,4e-29,5e-29,6e-29,7e-29,8e-29,9e-29,1e-28],
                "labelExpr": "abs(log(datum.value)/LN10 - round(log(datum.value)/LN10)) < 1e-6 && abs(round(log(datum.value)/LN10)) % 2 == 0 ? '10⁻' + substring('⁰¹²³⁴⁵⁶⁷⁸⁹', floor(abs(round(log(datum.value)/LN10))/10), floor(abs(round(log(datum.value)/LN10))/10) + 1) + substring('⁰¹²³⁴⁵⁶⁷⁸⁹', abs(round(log(datum.value)/LN10)) % 10, abs(round(log(datum.value)/LN10)) % 10 + 1) : ''"}},
            "color": {"field": "series", "type": "nominal",
              "scale": {"domain": ["CMS exp. 90% CL", "PICO-60", "IceCube bb̄", "Super-K bb̄", "CMS obs. 90% CL", "Picasso", "IceCube tt̄"], "range": ["#000000", "#1010f0", "#3399f5", "#3ec8f5", "#ff0000", "#0c0c8c", "#3a6a9c"]},
              "legend": {"title": null, "orient": "none", "legendX": 49, "legendY": 91, "columns": 2, "symbolType": "stroke", "symbolSize": 900, "symbolStrokeWidth": 2.5, "labelFontSize": 17, "labelFont": "Liberation Sans", "labelOffset": 6, "rowPadding": 6, "columnPadding": 0, "padding": 0, "labelLimit": 400}},
            "strokeDash": {"field": "series", "type": "nominal",
              "scale": {"domain": ["CMS exp. 90% CL", "PICO-60", "IceCube bb̄", "Super-K bb̄", "CMS obs. 90% CL", "Picasso", "IceCube tt̄"], "range": [[3,3],[1,0],[7,4],[7,4],[1,0],[1,0],[7,4]]},
              "legend": {"title": null, "orient": "none", "legendX": 49, "legendY": 91, "columns": 2, "symbolType": "stroke", "symbolSize": 900, "symbolStrokeWidth": 2.5, "labelFontSize": 17, "labelFont": "Liberation Sans", "labelOffset": 6, "rowPadding": 6, "columnPadding": 0, "padding": 0, "labelLimit": 400}},
            "order": {"field": "i", "type": "quantitative"}
          }
        },
        {
          "data": {"name": "sd"},
          "mark": {"type": "line", "opacity": 0},
          "encoding": {
            "x": {"field": "m", "type": "quantitative", "scale": {"type": "log", "domain": [1, 1200], "nice": false},
              "axis": {"orient": "top", "title": null, "labels": false, "tickSize": -9,
                "values": [1,2,3,4,5,6,7,8,9,10,20,30,40,50,60,70,80,90,100,200,300,400,500,600,700,800,900,1000]}},
            "y": {"field": "s", "type": "quantitative", "scale": {"type": "log", "domain": [1e-46, 1e-28], "nice": false},
              "axis": {"orient": "right", "title": null, "labels": false, "tickSize": -9,
                "values": [1e-46,2e-46,3e-46,4e-46,5e-46,6e-46,7e-46,8e-46,9e-46,1e-45,2e-45,3e-45,4e-45,5e-45,6e-45,7e-45,8e-45,9e-45,1e-44,2e-44,3e-44,4e-44,5e-44,6e-44,7e-44,8e-44,9e-44,1e-43,2e-43,3e-43,4e-43,5e-43,6e-43,7e-43,8e-43,9e-43,1e-42,2e-42,3e-42,4e-42,5e-42,6e-42,7e-42,8e-42,9e-42,1e-41,2e-41,3e-41,4e-41,5e-41,6e-41,7e-41,8e-41,9e-41,1e-40,2e-40,3e-40,4e-40,5e-40,6e-40,7e-40,8e-40,9e-40,1e-39,2e-39,3e-39,4e-39,5e-39,6e-39,7e-39,8e-39,9e-39,1e-38,2e-38,3e-38,4e-38,5e-38,6e-38,7e-38,8e-38,9e-38,1e-37,2e-37,3e-37,4e-37,5e-37,6e-37,7e-37,8e-37,9e-37,1e-36,2e-36,3e-36,4e-36,5e-36,6e-36,7e-36,8e-36,9e-36,1e-35,2e-35,3e-35,4e-35,5e-35,6e-35,7e-35,8e-35,9e-35,1e-34,2e-34,3e-34,4e-34,5e-34,6e-34,7e-34,8e-34,9e-34,1e-33,2e-33,3e-33,4e-33,5e-33,6e-33,7e-33,8e-33,9e-33,1e-32,2e-32,3e-32,4e-32,5e-32,6e-32,7e-32,8e-32,9e-32,1e-31,2e-31,3e-31,4e-31,5e-31,6e-31,7e-31,8e-31,9e-31,1e-30,2e-30,3e-30,4e-30,5e-30,6e-30,7e-30,8e-30,9e-30,1e-29,2e-29,3e-29,4e-29,5e-29,6e-29,7e-29,8e-29,9e-29,1e-28]}},
            "detail": {"field": "series"}
          }
        },
        {"data": {"values": [{"t": "CMS"}]}, "mark": {"type": "text", "align": "left", "baseline": "alphabetic", "fontSize": 23, "fontWeight": "bold"},
          "encoding": {"x": {"datum": 1.974, "type": "quantitative", "scale": {"type": "log", "domain": [1, 1200], "nice": false}, "axis": null}, "y": {"datum": 2.59e-30, "type": "quantitative", "scale": {"type": "log", "domain": [1e-46, 1e-28], "nice": false}, "axis": null}, "text": {"field": "t"}}},
        {"data": {"values": [{"t": "Axial med, Dirac DM, g"}]}, "mark": {"type": "text", "align": "left", "baseline": "alphabetic", "fontSize": 17, "fontWeight": "bold"},
          "encoding": {"x": {"datum": 1.974, "type": "quantitative", "scale": {"type": "log", "domain": [1, 1200], "nice": false}, "axis": null}, "y": {"datum": 2.03e-31, "type": "quantitative", "scale": {"type": "log", "domain": [1e-46, 1e-28], "nice": false}, "axis": null}, "text": {"field": "t"}}},
        {"data": {"values": [{"t": "q"}]}, "mark": {"type": "text", "align": "left", "baseline": "alphabetic", "fontSize": 12, "fontWeight": "bold", "dx": 184, "dy": 4},
          "encoding": {"x": {"datum": 1.974, "type": "quantitative", "scale": {"type": "log", "domain": [1, 1200], "nice": false}, "axis": null}, "y": {"datum": 2.03e-31, "type": "quantitative", "scale": {"type": "log", "domain": [1e-46, 1e-28], "nice": false}, "axis": null}, "text": {"field": "t"}}},
        {"data": {"values": [{"t": "= 0.25, g"}]}, "mark": {"type": "text", "align": "left", "baseline": "alphabetic", "fontSize": 17, "fontWeight": "bold", "dx": 196},
          "encoding": {"x": {"datum": 1.974, "type": "quantitative", "scale": {"type": "log", "domain": [1, 1200], "nice": false}, "axis": null}, "y": {"datum": 2.03e-31, "type": "quantitative", "scale": {"type": "log", "domain": [1e-46, 1e-28], "nice": false}, "axis": null}, "text": {"field": "t"}}},
        {"data": {"values": [{"t": "DM"}]}, "mark": {"type": "text", "align": "left", "baseline": "alphabetic", "fontSize": 12, "fontWeight": "bold", "dx": 264, "dy": 4},
          "encoding": {"x": {"datum": 1.974, "type": "quantitative", "scale": {"type": "log", "domain": [1, 1200], "nice": false}, "axis": null}, "y": {"datum": 2.03e-31, "type": "quantitative", "scale": {"type": "log", "domain": [1e-46, 1e-28], "nice": false}, "axis": null}, "text": {"field": "t"}}},
        {"data": {"values": [{"t": "= 1"}]}, "mark": {"type": "text", "align": "left", "baseline": "alphabetic", "fontSize": 17, "fontWeight": "bold", "dx": 287},
          "encoding": {"x": {"datum": 1.974, "type": "quantitative", "scale": {"type": "log", "domain": [1, 1200], "nice": false}, "axis": null}, "y": {"datum": 2.03e-31, "type": "quantitative", "scale": {"type": "log", "domain": [1e-46, 1e-28], "nice": false}, "axis": null}, "text": {"field": "t"}}},
        {"data": {"values": [{"t": "m"}]}, "mark": {"type": "text", "align": "left", "baseline": "alphabetic", "fontSize": 22},
          "encoding": {"x": {"datum": 19.15, "type": "quantitative", "scale": {"type": "log", "domain": [1, 1200], "nice": false}, "axis": null}, "y": {"datum": 8.59e-49, "type": "quantitative", "scale": {"type": "log", "domain": [1e-46, 1e-28], "nice": false}, "axis": null}, "text": {"field": "t"}}},
        {"data": {"values": [{"t": "DM"}]}, "mark": {"type": "text", "align": "left", "baseline": "alphabetic", "fontSize": 15, "dx": 18.5, "dy": 4},
          "encoding": {"x": {"datum": 19.15, "type": "quantitative", "scale": {"type": "log", "domain": [1, 1200], "nice": false}, "axis": null}, "y": {"datum": 8.59e-49, "type": "quantitative", "scale": {"type": "log", "domain": [1e-46, 1e-28], "nice": false}, "axis": null}, "text": {"field": "t"}}},
        {"data": {"values": [{"t": "[GeV]"}]}, "mark": {"type": "text", "align": "left", "baseline": "alphabetic", "fontSize": 22, "dx": 48},
          "encoding": {"x": {"datum": 19.15, "type": "quantitative", "scale": {"type": "log", "domain": [1, 1200], "nice": false}, "axis": null}, "y": {"datum": 8.59e-49, "type": "quantitative", "scale": {"type": "log", "domain": [1e-46, 1e-28], "nice": false}, "axis": null}, "text": {"field": "t"}}},
        {"data": {"values": [{"t": "σ"}]}, "mark": {"type": "text", "align": "left", "baseline": "alphabetic", "fontSize": 26, "angle": 270},
          "encoding": {"x": {"datum": 0.3738, "type": "quantitative", "scale": {"type": "log", "domain": [1, 1200], "nice": false}, "axis": null}, "y": {"datum": 4.04e-41, "type": "quantitative", "scale": {"type": "log", "domain": [1e-46, 1e-28], "nice": false}, "axis": null}, "text": {"field": "t"}}},
        {"data": {"values": [{"t": "SD"}]}, "mark": {"type": "text", "align": "left", "baseline": "alphabetic", "fontSize": 18, "angle": 270, "dx": 17, "dy": -11},
          "encoding": {"x": {"datum": 0.3738, "type": "quantitative", "scale": {"type": "log", "domain": [1, 1200], "nice": false}, "axis": null}, "y": {"datum": 4.04e-41, "type": "quantitative", "scale": {"type": "log", "domain": [1e-46, 1e-28], "nice": false}, "axis": null}, "text": {"field": "t"}}},
        {"data": {"values": [{"t": "DM-proton"}]}, "mark": {"type": "text", "align": "left", "baseline": "alphabetic", "fontSize": 18, "angle": 270, "dx": 17, "dy": 11},
          "encoding": {"x": {"datum": 0.3738, "type": "quantitative", "scale": {"type": "log", "domain": [1, 1200], "nice": false}, "axis": null}, "y": {"datum": 4.04e-41, "type": "quantitative", "scale": {"type": "log", "domain": [1e-46, 1e-28], "nice": false}, "axis": null}, "text": {"field": "t"}}},
        {"data": {"values": [{"t": "[cm²]"}]}, "mark": {"type": "text", "align": "left", "baseline": "alphabetic", "fontSize": 21, "angle": 270, "dx": 108},
          "encoding": {"x": {"datum": 0.3738, "type": "quantitative", "scale": {"type": "log", "domain": [1, 1200], "nice": false}, "axis": null}, "y": {"datum": 4.04e-41, "type": "quantitative", "scale": {"type": "log", "domain": [1e-46, 1e-28], "nice": false}, "axis": null}, "text": {"field": "t"}}}
      ]
    }
  ]
}
